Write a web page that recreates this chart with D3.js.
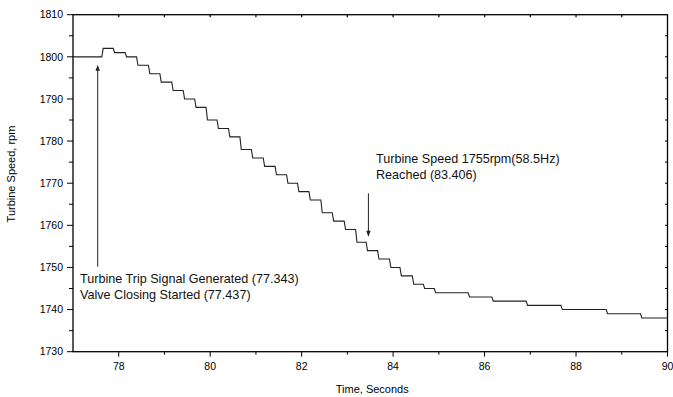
<!DOCTYPE html>
<html>
<head>
<meta charset="utf-8">
<script src="https://cdn.jsdelivr.net/npm/d3@7"></script>
<style>
    body { margin: 0; background: #fff; }
    svg { font-family: "Liberation Sans", Arial, sans-serif; }
</style>
</head>
<body>
<svg id="chart" width="673" height="397"></svg>
<script>
// step changes of the turbine speed: time (s) where each level starts, level (rpm)
let stepTimes = [77.0, 77.63, 77.88, 78.14, 78.39, 78.65, 78.90, 79.16, 79.41, 79.66,
    79.91, 80.15, 80.40, 80.65, 80.90, 81.16, 81.42, 81.67, 81.91, 82.16,
    82.42, 82.67, 82.93, 83.18, 83.41, 83.66, 83.92, 84.15, 84.42, 84.66,
    84.90, 85.64, 86.16, 86.91, 87.67, 88.66, 89.41];
let speeds = [1800, 1802, 1801, 1800, 1798, 1796, 1794, 1792, 1790, 1788,
    1785, 1783, 1781, 1778, 1776, 1774, 1772, 1770, 1768, 1766,
    1763, 1761, 1759, 1756, 1754, 1752, 1750, 1748, 1746, 1745,
    1744, 1743, 1742, 1741, 1740, 1739, 1738];
let endTime = 90;

let xTicks = [78, 80, 82, 84, 86, 88, 90];
let yTicks = [1730, 1740, 1750, 1760, 1770, 1780, 1790, 1800, 1810];

// arrows: event time and speed span
let tripArrow = {time: 77.54, from: 1750.2, to: 1798.1};
let speedArrow = {time: 83.46, from: 1767.6, to: 1757.3};
let tripText = ['Turbine Trip Signal Generated (77.343)', 'Valve Closing Started (77.437)'];
let speedText = ['Turbine Speed 1755rpm(58.5Hz)', 'Reached (83.406)'];

let margin = {top: 14.7, right: 5.5, bottom: 45.3, left: 73};
let width = 673 - margin.left - margin.right;
let height = 397 - margin.top - margin.bottom;

let svg = d3.select('#chart')
    .append('g')
    .attr('transform', 'translate(' + margin.left + ',' + margin.top + ')');

let xScale = d3.scaleLinear().domain([77, 90]).range([0, width]);
let yScale = d3.scaleLinear().domain([1730, 1810]).range([height, 0]);

// bottom axis, labelled every 2 s, minor ticks every second
let xMinor = d3.range(78, 91, 1);
svg.append('g')
    .selectAll('line')
    .data(xMinor)
    .enter()
    .append('line')
    .attr('x1', d => xScale(d)).attr('x2', d => xScale(d))
    .attr('y1', height).attr('y2', d => height + (d % 2 === 0 ? 5 : 3))
    .attr('stroke', '#000').attr('stroke-width', 1);
svg.append('g')
    .selectAll('text')
    .data(xTicks)
    .enter()
    .append('text')
    .attr('x', d => xScale(d))
    .attr('y', height + 18.5)
    .attr('text-anchor', 'middle')
    .style('font-size', '10.5px')
    .text(d => d);

// left axis, labelled every 10 rpm, minor every 5
let yMinor = d3.range(1730, 1811, 5);
svg.append('g')
    .selectAll('line')
    .data(yMinor)
    .enter()
    .append('line')
    .attr('x1', d => (d % 10 === 0 ? -6 : -4)).attr('x2', 0)
    .attr('y1', d => yScale(d)).attr('y2', d => yScale(d))
    .attr('stroke', '#000').attr('stroke-width', 1);
svg.append('g')
    .selectAll('text')
    .data(yTicks)
    .enter()
    .append('text')
    .attr('x', -10)
    .attr('y', d => yScale(d) + 3.7)
    .attr('text-anchor', 'end')
    .style('font-size', '10.5px')
    .text(d => d);

// mirrored short ticks on top and right
svg.append('g')
    .selectAll('line')
    .data(d3.range(78, 90, 1))
    .enter()
    .append('line')
    .attr('x1', d => xScale(d)).attr('x2', d => xScale(d))
    .attr('y1', 0).attr('y2', 2.5)
    .attr('stroke', '#000').attr('stroke-width', 1.2);
svg.append('g')
    .selectAll('line')
    .data(d3.range(1735, 1810, 5))
    .enter()
    .append('line')
    .attr('x1', width - 2.5).attr('x2', width)
    .attr('y1', d => yScale(d)).attr('y2', d => yScale(d))
    .attr('stroke', '#000').attr('stroke-width', 1);

// frame
svg.append('rect')
    .attr('x', 0).attr('y', 0)
    .attr('width', width).attr('height', height)
    .attr('fill', 'none')
    .attr('stroke', '#000')
    .attr('stroke-width', 1.3);

// step curve, each change drawn with a tiny ramp like the sampled record
let ramp = 0.03;
let points = [];
stepTimes.forEach(function (t, i) {
    let next = i < stepTimes.length - 1 ? stepTimes[i + 1] : endTime;
    points.push([i === 0 ? t : t + ramp, speeds[i]]);
    points.push([next, speeds[i]]);
});

let line = d3.line()
    .x(d => xScale(d[0]))
    .y(d => yScale(d[1]));

svg.append('path')
    .datum(points)
    .attr('d', line)
    .attr('fill', 'none')
    .attr('stroke', '#222')
    .attr('stroke-width', 1.1);

// arrows
function drawArrow(a) {
    let x = xScale(a.time);
    let y1 = yScale(a.from);
    let y2 = yScale(a.to);
    let dir = y2 < y1 ? 1 : -1;
    svg.append('line')
        .attr('x1', x).attr('x2', x)
        .attr('y1', y1).attr('y2', y2 + dir * 4)
        .attr('stroke', '#222').attr('stroke-width', 1);
    svg.append('path')
        .attr('d', 'M' + x + ',' + y2 + 'L' + (x - 2.2) + ',' + (y2 + dir * 6) +
            'L' + (x + 2.2) + ',' + (y2 + dir * 6) + 'Z')
        .attr('fill', '#222');
}
drawArrow(tripArrow);
drawArrow(speedArrow);

function drawLabel(lines, x, y) {
    let t = svg.append('text')
        .attr('x', x).attr('y', y)
        .style('font-size', '12.6px')
        .attr('fill', '#111');
    lines.forEach(function (s, i) {
        t.append('tspan').attr('x', x).attr('dy', i === 0 ? 0 : 16).text(s);
    });
}
drawLabel(tripText, 80 - margin.left, 283.3 - margin.top);
drawLabel(speedText, 376 - margin.left, 163.3 - margin.top);

// axis titles
svg.append('text')
    .attr('x', width / 2 + 2)
    .attr('y', height + 41)
    .attr('text-anchor', 'middle')
    .style('font-size', '11px')
    .text('Time, Seconds');

svg.append('text')
    .attr('transform', 'translate(' + (-58) + ',' + (174 - margin.top) + ') rotate(-90)')
    .attr('text-anchor', 'middle')
    .style('font-size', '11px')
    .text('Turbine Speed, rpm');
</script>
</body>
</html>
